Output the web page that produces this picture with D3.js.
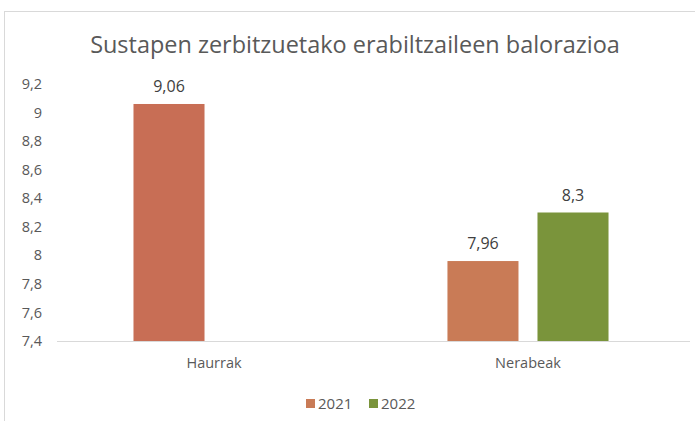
<!DOCTYPE html>
<html><head><meta charset="utf-8">
<script src="https://cdn.jsdelivr.net/npm/d3@7"></script>
<style>html,body{margin:0;padding:0;background:#fff;}svg{display:block;}</style>
</head><body>
<script>
const title = "Sustapen zerbitzuetako erabiltzaileen balorazioa";
const categories = ["Haurrak", "Nerabeak"];
const seriesNames = ["2021", "2022"];
const values2021 = [9.06, 7.96];
const values2022 = [null, 8.3];
const yTicks = [7.4, 7.6, 7.8, 8, 8.2, 8.4, 8.6, 8.8, 9, 9.2];
const seriesColors = ["#C97B56", "#7A943B"];
const pointColors2021 = ["#C86E55", "#C97B56"];

const W = 695, H = 421;
const svg = d3.select("body").append("svg").attr("width", W).attr("height", H);
const font = "Open Sans, Lato, sans-serif";
const textColor = "#595959";

svg.append("rect").attr("x", 4.5).attr("y", 11.5).attr("width", 720).attr("height", 440)
  .attr("fill", "#fff").attr("stroke", "#D9D9D9").attr("stroke-width", 1);

const fmt = d => String(+d.toFixed(2)).replace(".", ",");

const y = d3.scaleLinear().domain([7.4, 9.2]).range([341, 84]);
const x0 = d3.scaleBand().domain(categories).range([57, 685]).paddingInner(0.487).paddingOuter(0.2436);
const x1 = d3.scaleBand().domain(seriesNames).range([0, x0.bandwidth()]).paddingInner(0.211).paddingOuter(0);

// title
const t = svg.append("text").attr("x", 355).attr("y", 53).attr("text-anchor", "middle")
  .attr("font-family", font).attr("font-size", 22).attr("fill", textColor).text(title);
const tl = t.node().getComputedTextLength();
t.attr("font-size", 22 * 530 / tl);

// y axis
const yAxis = d3.axisLeft(y).tickValues(yTicks).tickFormat(fmt).tickSize(0).tickPadding(0);
const yg = svg.append("g").attr("transform", "translate(42,0)").call(yAxis);
yg.select(".domain").remove();
yg.selectAll("text").attr("font-family", font).attr("font-size", 14.5).attr("fill", textColor);

// baseline
const xAxis = d3.axisBottom(x0).tickSize(0).tickPadding(17);
const xg = svg.append("g").attr("transform", "translate(0,341)").call(xAxis);
xg.select(".domain").attr("stroke", "#D9D9D9").attr("d", "M57,0.5H690");
xg.selectAll("text").attr("font-family", font).attr("font-size", 14.5).attr("fill", textColor);

const data = [];
categories.forEach((c, i) => {
  data.push({cat: c, s: "2021", v: values2021[i], color: pointColors2021[i]});
  data.push({cat: c, s: "2022", v: values2022[i], color: seriesColors[1]});
});
const bars = data.filter(d => d.v != null);

svg.append("g").selectAll("rect").data(bars).join("rect")
  .attr("x", d => x0(d.cat) + x1(d.s))
  .attr("width", x1.bandwidth())
  .attr("y", d => y(d.v))
  .attr("height", d => y(7.4) - y(d.v))
  .attr("fill", d => d.color);

svg.append("g").selectAll("text").data(bars).join("text")
  .attr("x", d => x0(d.cat) + x1(d.s) + x1.bandwidth() / 2)
  .attr("y", d => y(d.v) - 12)
  .attr("text-anchor", "middle")
  .attr("font-family", font).attr("font-size", 16).attr("fill", "#404040")
  .text(d => fmt(d.v));

// legend
const legend = svg.append("g");
const lx = [306, 369];
seriesNames.forEach((s, i) => {
  legend.append("rect").attr("x", lx[i]).attr("y", 399).attr("width", 9).attr("height", 9).attr("fill", seriesColors[i]);
  legend.append("text").attr("x", lx[i] + 12).attr("y", 409).attr("font-family", font)
    .attr("font-size", 15).attr("fill", textColor).text(s);
});
</script>
</body></html>
